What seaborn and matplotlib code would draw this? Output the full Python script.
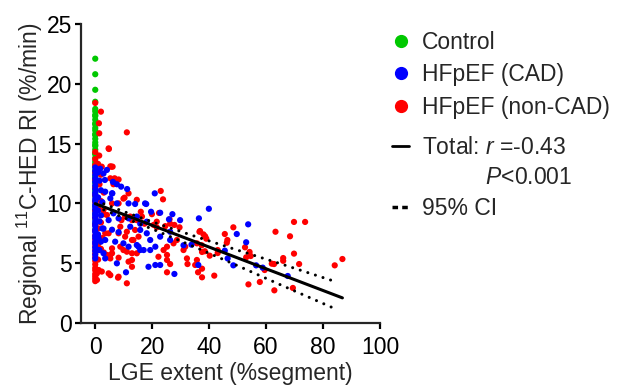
import matplotlib
matplotlib.use("Agg")
import matplotlib.pyplot as plt
from matplotlib.lines import Line2D
import seaborn as sns
import pandas as pd

# ---------------- data ----------------
control_y = [22.1, 20.8, 19.5, 18.5, 17.9, 17.7, 17.4, 17.3, 17.0, 16.7, 16.6, 16.3,
             16.1, 15.8, 15.7, 15.4, 15.1, 14.9, 14.8, 14.5, 14.2, 14.1, 13.8, 13.5,
             13.3, 13.1, 12.8, 12.6, 12.3, 12.2, 11.9, 11.7, 11.4, 11.1, 10.9, 10.6,
             10.2, 9.8, 9.4, 9.1, 8.7, 8.3, 7.8]
control_x = [0.0] * len(control_y)

cad_x = [0]*30 + [
    1.0, 1.5, 2.0, 1.0, 2.5, 1.0, 2.0, 1.5, 2.5, 1.0, 2.0, 1.5, 1.2, 3.5, 1.2, 2.9, 3.5,
    2.9, 1.75, 4.1, 3.4, 6.2, 7.6, 9.1, 11.2, 3.5, 5.9, 5.3, 6.0, 7.6, 11.7, 6.4, 8.2,
    4.7, 2.9, 5.9, 8.2, 7.0, 9.9, 11.7, 14.6, 15.8, 10.8, 20.9, 17.5, 14.0, 17.9, 19.6,
    22.8, 27.1, 25.9, 29.8, 36.4, 39.9, 11.7, 14.6, 15.8, 18.1, 12.3, 15.8, 18.1, 19.3,
    21.1, 17.0, 19.3, 15.2, 22.8, 26.3, 26.3, 31.0, 18.7, 21.1, 22.8, 27.8, 7.6, 36.2,
    33.8, 45.5, 46.5, 48.5, 49.7, 53.0, 53.7, 56.5, 58.8, 67.6]
cad_y = [13.0, 12.7, 12.4, 12.1, 11.8, 11.5, 11.2, 10.9, 10.7, 10.4, 10.2, 9.9, 9.7,
         9.5, 9.2, 9.0, 8.8, 8.5, 8.3, 8.1, 7.8, 7.6, 7.3, 7.1, 6.8, 6.6, 6.3, 6.0,
         5.7, 5.4] + [
    12.6, 11.9, 11.1, 10.5, 10.1, 9.4, 9.0, 8.5, 7.9, 7.4, 6.8, 6.1, 7.08, 6.94, 6.1,
    5.83, 5.4, 12.5, 12.9, 12.8, 11.96, 11.8, 11.6, 11.4, 11.2, 10.98, 10.84, 10.42,
    10.84, 10.0, 10.0, 9.17, 8.75, 8.6, 7.9, 7.8, 7.6, 6.8, 6.66, 6.38, 6.52, 6.1, 4.24,
    10.84, 10.0, 9.95, 9.95, 9.3, 9.22, 9.1, 8.67, 8.6, 8.75, 9.55, 8.75, 8.9, 8.3, 8.47,
    8.05, 7.78, 7.5, 6.94, 6.38, 6.1, 6.1, 6.38, 7.22, 7.63, 6.94, 6.5, 4.7, 4.85, 4.85,
    4.1, 4.99, 4.85, 6.55, 6.05, 5.4, 4.82, 7.44, 6.75, 8.25, 4.82, 4.63, 3.93]

noncad_x = [0]*28 + [
    1.0, 2.0, 1.5, 3.0, 2.0, 1.0, 3.0, 2.0, 1.0, 3.5, 2.5, 1.0, 2.0, 3.0, 1.0, 1.2, 0.6,
    0.6, 2.3, 4.7, 5.3, 8.0, 11.1, 8.2, 12.9, 11.7, 1.4, 1.4, 1.3, 2.0, 4.8, 11.1, 4.7,
    2.3, 5.7, 6.1, 5.3, 5.3, 6.8, 7.0, 8.2, 6.4, 11.7, 10.3, 9.9, 14.6, 5.9, 8.2, 2.9,
    4.1, 10.5, 12.9, 4.7, 8.2, 23.0, 23.8, 16.0, 12.3, 9.2, 14.6, 16.4, 19.9, 22.4, 21.6,
    17.3, 20.5, 21.6, 24.6, 26.3, 27.8, 26.1, 29.6, 8.8, 11.1, 14.0, 10.5, 12.9, 15.2,
    28.7, 27.5, 31.0, 31.6, 35.7, 25.2, 24.0, 25.2, 22.2, 32.2, 35.7, 25.2, 12.9, 14.6,
    9.9, 8.8, 5.9, 5.3, 4.1, 5.3, 8.2, 11.1, 12.9, 5.9, 13.4, 26.3, 25.2, 32.4, 35.1,
    37.5, 36.1, 37.5, 41.8, 36.8, 36.6, 38.0, 38.6, 39.0, 37.4, 37.5, 38.5, 43.0, 43.0,
    40.2, 45.5, 46.4, 46.2, 48.5, 52.6, 54.2, 54.6, 53.0, 63.3, 68.4, 69.8, 73.7, 66.0,
    66.0, 69.8, 71.6, 62.0, 62.8, 59.5, 69.4, 62.9, 53.8, 57.8, 84.1, 86.8]
noncad_y = [14.3, 13.7, 13.2, 12.6, 12.0, 11.3, 10.7, 10.1, 9.4, 8.8, 8.2, 7.7, 7.3,
            7.0, 6.7, 6.4, 6.1, 5.8, 5.5, 5.2, 4.9, 4.6, 4.4, 4.1, 3.9, 3.7, 3.5,
            18.4] + [
    13.3, 12.4, 11.6, 10.9, 10.2, 9.6, 9.1, 8.4, 7.9, 7.5, 7.1, 6.6, 6.2, 5.9, 5.3, 4.43,
    4.15, 3.6, 4.3, 4.15, 4.0, 3.79, 3.32, 3.87, 4.7, 5.13, 14.0, 15.86, 16.7, 17.67,
    14.55, 15.94, 14.6, 13.07, 13.07, 13.07, 13.1, 12.1, 12.1, 12.0, 12.0, 11.6, 10.84,
    10.48, 10.4, 10.3, 10.0, 10.0, 9.45, 9.03, 8.9, 8.6, 7.5, 7.5, 11.04, 10.34, 9.3,
    8.9, 8.6, 8.6, 8.9, 9.1, 9.2, 8.47, 8.3, 8.2, 8.0, 8.1, 8.3, 8.2, 8.67, 8.0, 8.05,
    7.63, 7.78, 7.22, 6.94, 7.22, 6.94, 6.66, 6.1, 6.38, 6.66, 6.38, 6.1, 5.69, 5.54,
    5.4, 5.27, 5.27, 5.83, 5.83, 6.1, 6.38, 5.83, 5.4, 5.69, 5.69, 5.46, 5.96, 5.27,
    6.24, 6.94, 4.93, 4.24, 4.93, 4.85, 4.54, 4.24, 3.82, 3.96, 7.69, 7.63, 7.41, 7.25,
    7.05, 6.5, 5.94, 6.0, 6.1, 5.85, 5.63, 7.44, 6.94, 6.71, 8.0, 6.33, 5.94, 5.6, 5.49,
    7.63, 7.25, 8.45, 8.45, 5.43, 5.2, 5.8, 4.93, 4.96, 4.93, 4.43, 2.93, 2.73, 3.23,
    3.43, 4.82, 5.35]

# regression line and 95% CI band
fit_x = [0.0, 86.8]
fit_y = [9.98, 2.10]
ci_x = [3, 10, 20, 35, 50, 65, 85]
ci_upper = [9.96, 9.32, 8.46, 7.25, 6.09, 4.96, 3.41]
ci_lower = [9.46, 8.82, 7.86, 6.35, 4.79, 3.20, 1.11]

groups = ["Control", "HFpEF (CAD)", "HFpEF (non-CAD)"]
colors = ["#00C800", "#0000FF", "#FF0000"]

df = pd.DataFrame({
    "x": control_x + cad_x + noncad_x,
    "y": control_y + cad_y + noncad_y,
    "group": [groups[0]] * len(control_x) + [groups[1]] * len(cad_x) + [groups[2]] * len(noncad_x),
})
# draw order: control, non-CAD, CAD
df["order"] = df["group"].map({groups[0]: 0, groups[2]: 1, groups[1]: 2})
df = df.sort_values("order", kind="stable")

# ---------------- style ----------------
sns.set_style("ticks")
plt.rcParams["font.family"] = ["Liberation Sans", "DejaVu Sans"]
plt.rcParams["mathtext.fontset"] = "custom"
plt.rcParams["mathtext.rm"] = "Liberation Sans"
plt.rcParams["mathtext.it"] = "Liberation Sans:italic"
FS = 16.5

fig = plt.figure(figsize=(6.18, 3.87), dpi=100)
ax = fig.add_axes([81 / 618, (387 - 323) / 387, (380 - 81) / 618, (323 - 24) / 387])

sns.scatterplot(data=df, x="x", y="y", hue="group", hue_order=groups,
                palette=dict(zip(groups, colors)), s=20, linewidth=0,
                ax=ax, legend=False, zorder=2)

sns.lineplot(x=fit_x, y=fit_y, color="black", lw=2.2, ax=ax, zorder=3)
for band in (ci_upper, ci_lower):
    sns.lineplot(x=ci_x, y=band, color="black", lw=2.2, ax=ax, zorder=3,
                 linestyle=(0, (0.01, 2.6)), dash_capstyle="round")

ax.set_xlim(-5, 100)
ax.set_ylim(0, 25)
ax.set_xticks([0, 20, 40, 60, 80, 100])
ax.set_yticks([0, 5, 10, 15, 20, 25])
for s in ("top", "right"):
    ax.spines[s].set_visible(False)
for s in ("left", "bottom"):
    ax.spines[s].set_linewidth(1.6)
ax.tick_params(axis="both", labelsize=FS, width=1.6, length=4.5, direction="out", colors="black")
ax.tick_params(axis="x", pad=5)
ax.tick_params(axis="y", pad=2)
ax.set_xlabel("LGE extent (%segment)", fontsize=FS, labelpad=2)
ax.set_ylabel("Regional $^{11}$C-HED RI (%/min)", fontsize=FS, labelpad=1)

marker_handles = [
    Line2D([], [], marker="o", ls="none", color=c, markersize=8.5) for c in colors
]
line_handles = [
    Line2D([], [], color="black", lw=2.0),
    Line2D([], [], ls="none"),
    Line2D([], [], color="black", lw=2.5, linestyle=(0, (1.6, 1.2))),
]
line_labels = ["Total: $\\mathit{r}$ =-0.43",
               "          $\\mathit{P}$<0.001",
               "95% CI"]
common = dict(loc="upper left", frameon=False, fontsize=FS, handlelength=0.75,
              handletextpad=0.55, borderpad=0, borderaxespad=0)
leg1 = fig.legend(marker_handles, groups, bbox_to_anchor=(392 / 618, 1 - 31 / 387),
                  labelspacing=0.41, **common)
leg2 = fig.legend(line_handles, line_labels, bbox_to_anchor=(392 / 618, 1 - 136 / 387),
                  labelspacing=0.32, **common)

fig.savefig("out.png", dpi=100)
